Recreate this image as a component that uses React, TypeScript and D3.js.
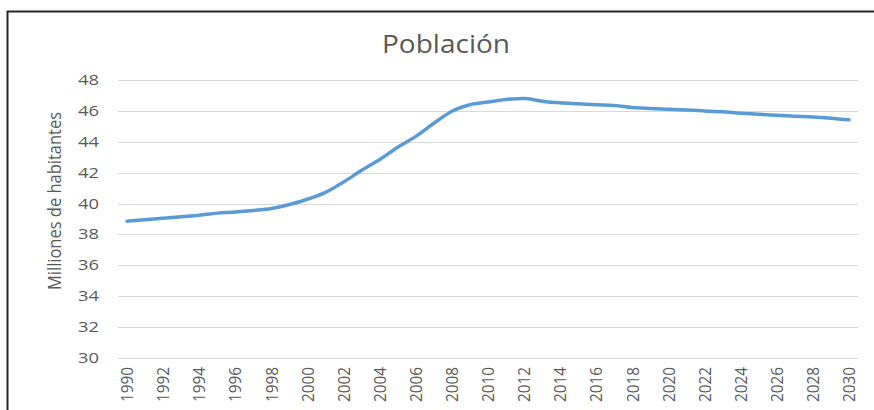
import React from "react";
import * as d3 from "d3";

const years: number[] = [
  1990, 1991, 1992, 1993, 1994, 1995, 1996, 1997, 1998, 1999,
  2000, 2001, 2002, 2003, 2004, 2005, 2006, 2007, 2008, 2009,
  2010, 2011, 2012, 2013, 2014, 2015, 2016, 2017, 2018, 2019,
  2020, 2021, 2022, 2023, 2024, 2025, 2026, 2027, 2028, 2029, 2030,
];
const population: number[] = [
  38.86, 38.95, 39.05, 39.15, 39.25, 39.38, 39.45, 39.55, 39.68, 39.94,
  40.28, 40.72, 41.4, 42.15, 42.85, 43.65, 44.35, 45.2, 45.98, 46.4,
  46.57, 46.74, 46.8, 46.63, 46.52, 46.46, 46.4, 46.35, 46.22, 46.16,
  46.11, 46.06, 46.0, 45.94, 45.85, 45.78, 45.72, 45.66, 45.6, 45.53, 45.42,
];
const yTicks: number[] = [30, 32, 34, 36, 38, 40, 42, 44, 46, 48];
const xTickLabels: number[] = years.filter((y) => y % 2 === 0);
const title = "Población";
const yTitle = "Milliones de habitantes";

const W = 874;
const H = 410;
const FONT = "'Open Sans', 'Liberation Sans', sans-serif";
const TEXT = "#595959";

export default function App() {
  const x = d3
    .scaleBand<number>()
    .domain(years)
    .range([118, 858])
    .padding(0);
  const cx = (yr: number) => (x(yr) as number) + x.bandwidth() / 2;
  const y = d3.scaleLinear().domain([30, 48]).range([358, 80]);

  const line = d3
    .line<number>()
    .x((_, i) => cx(years[i]))
    .y((d) => y(d))
    .curve(d3.curveMonotoneX);

  return (
    <svg
      width={W}
      height={H}
      style={{ position: "absolute", left: 0, top: 0, background: "#fff" }}
    >
      <rect x={0} y={0} width={W} height={H} fill="#fff" />
      {/* frame */}
      <path d="M7.5,420 V11.5 H880" fill="none" stroke="#262626" strokeWidth={2} />

      {/* title */}
      <text
        x={446}
        y={53}
        textAnchor="middle"
        fontFamily={FONT}
        fontSize={25}
        fill={TEXT}
        textLength={128}
        lengthAdjust="spacingAndGlyphs"
      >
        {title}
      </text>

      {/* gridlines */}
      {yTicks.map((t) => (
        <line
          key={t}
          x1={118}
          x2={858}
          y1={Math.round(y(t)) + 0.5}
          y2={Math.round(y(t)) + 0.5}
          stroke="#d9d9d9"
          strokeWidth={1}
        />
      ))}

      {/* y tick labels */}
      {yTicks.map((t) => (
        <text
          key={"l" + t}
          x={99}
          y={y(t)}
          dy="0.36em"
          textAnchor="end"
          fontFamily={FONT}
          fontSize={14}
          fill={TEXT}
          textLength={21}
          lengthAdjust="spacingAndGlyphs"
        >
          {t}
        </text>
      ))}

      {/* y axis title */}
      <text
        transform={`translate(61,201) rotate(-90)`}
        textAnchor="middle"
        fontFamily={FONT}
        fontSize={19}
        fill={TEXT}
        textLength={178}
        lengthAdjust="spacingAndGlyphs"
      >
        {yTitle}
      </text>

      {/* x tick labels */}
      {xTickLabels.map((yr) => (
        <text
          key={"x" + yr}
          transform={`translate(${cx(yr)},367) rotate(-90)`}
          textAnchor="end"
          dy="0.36em"
          fontFamily={FONT}
          fontSize={17}
          fill={TEXT}
          textLength={35}
          lengthAdjust="spacingAndGlyphs"
        >
          {yr}
        </text>
      ))}

      {/* series */}
      <path
        d={line(population) || ""}
        fill="none"
        stroke="#5B9BD5"
        strokeWidth={3.5}
        strokeLinejoin="round"
        strokeLinecap="round"
      />
    </svg>
  );
}
